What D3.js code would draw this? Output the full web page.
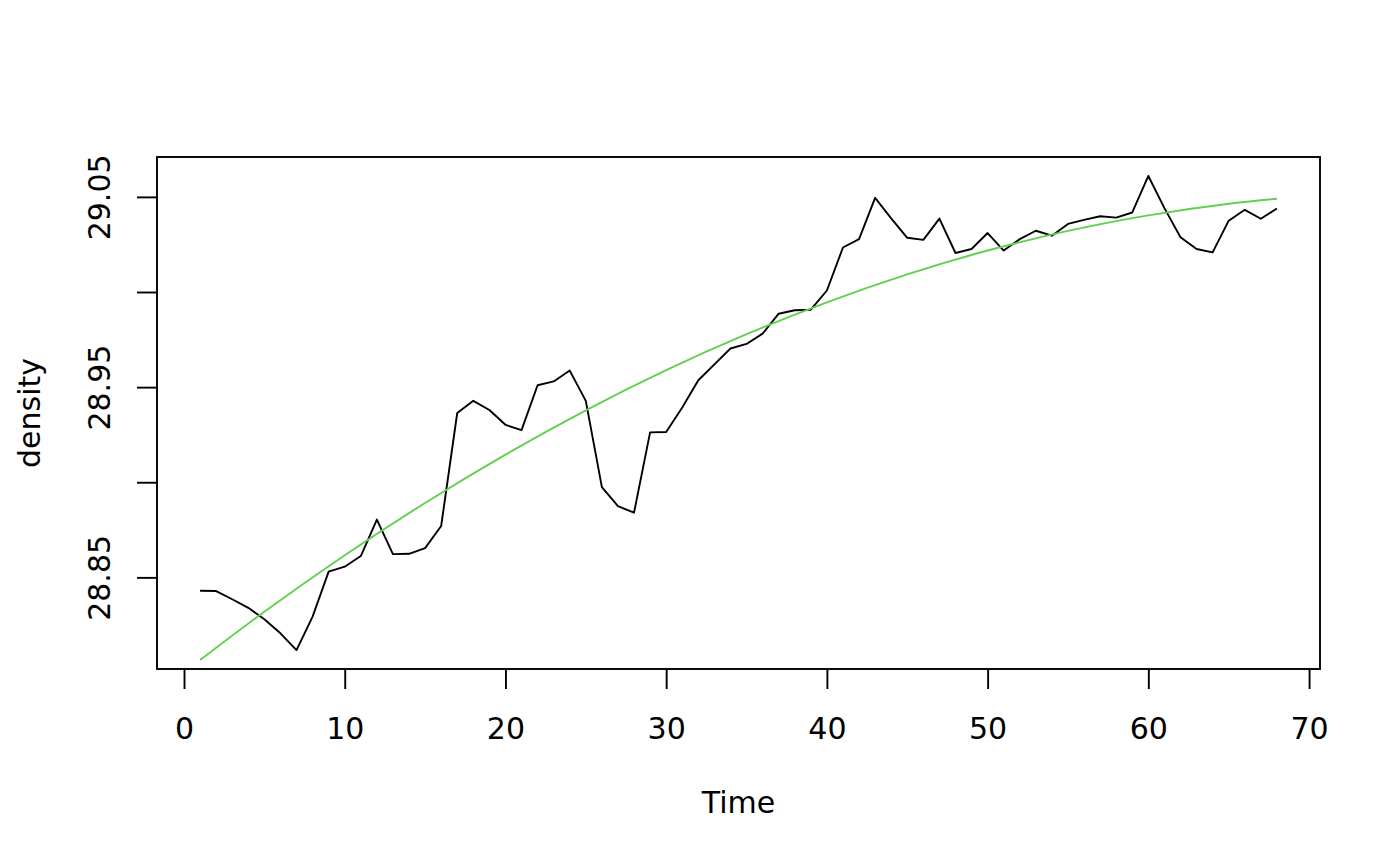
<!DOCTYPE html>
<html>
<head>
<meta charset="utf-8">
<script src="https://cdn.jsdelivr.net/npm/d3@7"></script>
<style>
  body { margin: 0; background: #fff; }
  text { font-family: "DejaVu Sans", sans-serif; font-size: 30px; fill: #000; }
</style>
</head>
<body>
<div id="chart"></div>
<script>
const WIDTH = 1400;
const HEIGHT = 866;
const LEFT = 157;
const RIGHT = 1320;
const TOP = 157;
const BOTTOM = 669;
const TICK = 20;

// observed density series, t = 1..68
const density = [
  28.8430, 28.8428, 28.8385, 28.8340, 28.8280, 28.8206, 28.8118, 28.8294,
  28.8530, 28.8556, 28.8612, 28.8804, 28.8622, 28.8624, 28.8654, 28.8770,
  28.9364, 28.9428, 28.9380, 28.9302, 28.9274, 28.9510, 28.9530, 28.9587,
  28.9428, 28.8974, 28.8874, 28.8840, 28.9262, 28.9264, 28.9393, 28.9536,
  28.9620, 28.9703, 28.9727, 28.9781, 28.9886, 28.9904, 28.9907, 29.0008,
  29.0234, 29.0278, 29.0495, 29.0387, 29.0285, 29.0274, 29.0386, 29.0205,
  29.0226, 29.0310, 29.0218, 29.0278, 29.0322, 29.0296, 29.0358, 29.0379,
  29.0398, 29.0391, 29.0418, 29.0610, 29.0441, 29.0288, 29.0226, 29.0208,
  29.0375, 29.0432, 29.0385, 29.0439
];

// fitted trend (green), read at a few times
const fitTime = [1, 5, 10, 15, 20, 25, 30, 35, 40, 45, 50, 55, 60, 65, 68];
const fitValue = [
  28.8065, 28.8319, 28.8616, 28.8891, 28.9145, 28.9378, 28.9589, 28.9778,
  28.9946, 29.0093, 29.0218, 29.0321, 29.0403, 29.0464, 29.0490
];

const xTicks = [0, 10, 20, 30, 40, 50, 60, 70];
const yTicks = [28.85, 28.90, 28.95, 29.00, 29.05];
const yTickLabels = ['28.85', '', '28.95', '', '29.05'];

let svg, xScale, yScale;

function pad(ext) {
  let d = (ext[1] - ext[0]) * 0.04;
  return [ext[0] - d, ext[1] + d];
}

function buildScales() {
  xScale = d3.scaleLinear()
    .domain(pad([1, density.length]))
    .range([LEFT, RIGHT]);

  yScale = d3.scaleLinear()
    .domain(pad(d3.extent(density)))
    .range([BOTTOM, TOP]);
}

function buildAxis() {
  let xAxis = d3.axisBottom(xScale)
    .tickValues(xTicks)
    .tickSize(TICK)
    .tickSizeOuter(0);

  let gx = svg.append('g')
    .attr('class', 'xAxis')
    .attr('transform', `translate(0, ${BOTTOM})`)
    .call(xAxis);
  gx.select('.domain').remove();
  gx.selectAll('.tick line').attr('stroke', '#000').attr('stroke-width', 1.9);
  gx.selectAll('.tick text')
    .attr('dy', null)
    .attr('y', 70)
    .style('font-size', '30px')
    .style('font-family', '"DejaVu Sans", sans-serif');

  let yAxis = d3.axisLeft(yScale)
    .tickValues(yTicks)
    .tickSize(TICK)
    .tickFormat((d, i) => yTickLabels[i])
    .tickSizeOuter(0);

  let gy = svg.append('g')
    .attr('class', 'yAxis')
    .attr('transform', `translate(${LEFT}, 0)`)
    .call(yAxis);
  gy.select('.domain').remove();
  gy.selectAll('.tick line').attr('stroke', '#000').attr('stroke-width', 1.9);
  gy.selectAll('.tick text')
    .attr('x', null)
    .attr('dy', null)
    .attr('transform', 'translate(-47, 0) rotate(-90)')
    .attr('text-anchor', 'middle')
    .style('font-size', '30px')
    .style('font-family', '"DejaVu Sans", sans-serif');

  svg.append('text')
    .attr('x', (LEFT + RIGHT) / 2)
    .attr('y', 813)
    .attr('text-anchor', 'middle')
    .text('Time');

  svg.append('text')
    .attr('transform', `translate(40, ${(TOP + BOTTOM) / 2}) rotate(-90)`)
    .attr('text-anchor', 'middle')
    .text('density');
}

function buildLines() {
  let line = d3.line()
    .x((d, i) => xScale(i + 1))
    .y((d) => yScale(d));

  svg.append('path')
    .datum(density)
    .attr('d', line)
    .attr('fill', 'none')
    .attr('stroke', '#000')
    .attr('stroke-width', 1.9)
    .attr('stroke-linejoin', 'round');

  let fit = d3.line()
    .curve(d3.curveNatural)
    .x((d, i) => xScale(fitTime[i]))
    .y((d) => yScale(d));

  svg.append('path')
    .datum(fitValue)
    .attr('d', fit)
    .attr('fill', 'none')
    .attr('stroke', '#61D04F')
    .attr('stroke-width', 1.9);
}

function buildBox() {
  svg.append('rect')
    .attr('x', LEFT)
    .attr('y', TOP)
    .attr('width', RIGHT - LEFT)
    .attr('height', BOTTOM - TOP)
    .attr('fill', 'none')
    .attr('stroke', '#000')
    .attr('stroke-width', 1.9);
}

function buildChart(selector) {
  svg = d3.select(selector).append('svg')
    .attr('width', WIDTH)
    .attr('height', HEIGHT);

  buildScales();
  buildAxis();
  buildLines();
  buildBox();
}

buildChart('#chart');
</script>
</body>
</html>
